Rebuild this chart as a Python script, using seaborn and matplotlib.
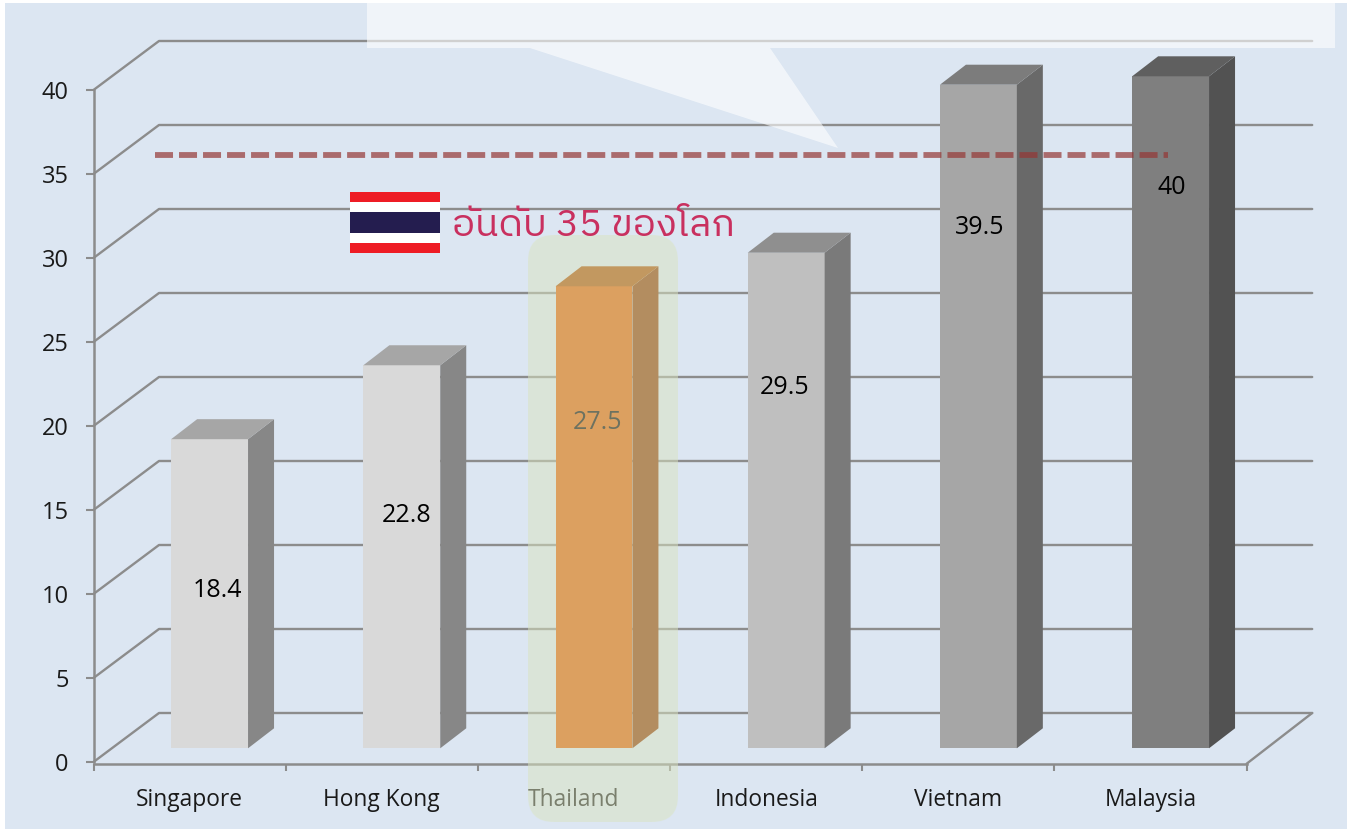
import matplotlib

matplotlib.use("Agg")
import matplotlib.pyplot as plt
import pandas as pd
import seaborn as sns
from matplotlib.patches import FancyBboxPatch, Polygon, Rectangle

countries = ["Singapore", "Hong Kong", "Thailand", "Indonesia", "Vietnam", "Malaysia"]
values = [18.4, 22.8, 27.5, 29.5, 39.5, 40]
value_labels = ["18.4", "22.8", "27.5", "29.5", "39.5", "40"]
y_ticks = [0, 5, 10, 15, 20, 25, 30, 35, 40]
thai_label = "อันดับ 35 ของโลก"

front_colors = ["#d9d9d9", "#d9d9d9", "#e05c00", "#bfbfbf", "#a6a6a6", "#7f7f7f"]
side_colors = ["#878787", "#878787", "#8c3600", "#7a7a7a", "#696969", "#525252"]
top_colors = ["#a6a6a6", "#a6a6a6", "#aa4c00", "#8f8f8f", "#7c7c7c", "#5f5f5f"]
label_height = [9.38, 13.88, 19.42, 21.46, 30.98, 33.37]
label_shift_px = [7.5, 4.5, 4, -2, 1, 1.5]

W, H = 1347, 830
PX_X = 192.2  # px per category
PX_Y = 16.8  # px per value unit
GRID = "#8c8c8c"

sns.set_theme(style="white")
plt.rcParams["font.family"] = ["Open Sans", "DejaVu Sans"]

fig = plt.figure(figsize=(W / 100, H / 100), dpi=100, facecolor="white")
fig.add_artist(
    Rectangle(
        (5 / W, 1 / H), (W - 5) / W, 826 / H,
        transform=fig.transFigure, facecolor="#dce6f2", edgecolor="none", zorder=-1,
    )
)


def px_axes(left, zero_y):
    return fig.add_axes(
        [left / W, (H - zero_y) / H, 6 * PX_X / W, 40 * PX_Y / H],
        xlim=(-0.5, 5.5), ylim=(0, 40), facecolor="none",
    )


# frame with ticks and the walls
ax = px_axes(93.5, 762)
ax.set_zorder(1)
wall_dx, wall_dy = 65.5 / PX_X, 49 / PX_Y
for v in y_ticks:
    ax.plot([-0.5, -0.5 + wall_dx, 5.5 + wall_dx], [v, v + wall_dy, v + wall_dy],
            color=GRID, lw=1.7, clip_on=False, solid_capstyle="round")
ax.plot([5.5, 5.5 + wall_dx], [-0.1, wall_dy], color=GRID, lw=1.7, clip_on=False)
sns.despine(ax=ax)
for side in ["left", "bottom"]:
    ax.spines[side].set_color(GRID)
    ax.spines[side].set_linewidth(1.8)
ax.spines["bottom"].set_position(("outward", 1.1))
ax.set_yticks(y_ticks)
ax.set_xticks([i - 0.5 for i in range(7)])
ax.set_xticklabels([])
ax.set_xticks(range(6), countries, minor=True)
ax.tick_params(axis="y", length=6, width=1.5, color=GRID, labelsize=17, labelcolor="#1a1a1a", pad=12, left=True)
ax.tick_params(axis="x", which="major", length=5, width=1.5, color=GRID, bottom=True)
ax.tick_params(axis="x", which="minor", length=0, labelsize=16.4, labelcolor="#1a1a1a", pad=17.5)

# bars stand a bit inside the floor
ax_bars = px_axes(93.5 + 20, 748.3)
ax_bars.set_zorder(2)
df = pd.DataFrame({"country": countries, "value": values})
sns.barplot(
    data=df, x="country", y="value", hue="country", palette=front_colors,
    hue_order=countries, order=countries, width=0.4, saturation=1, legend=False,
    linewidth=0, ax=ax_bars,
)
ax_bars.set_xlim(-0.5, 5.5)
ax_bars.set_ylim(0, 40)
ax_bars.axis("off")
bar_dx, bar_dy = 26 / PX_X, 20 / PX_Y
for i, bar in enumerate(ax_bars.patches):
    x0, x1, h = bar.get_x(), bar.get_x() + bar.get_width(), bar.get_height()
    ax_bars.add_patch(Polygon(
        [(x1, 0), (x1 + bar_dx, bar_dy), (x1 + bar_dx, h + bar_dy), (x1, h)],
        facecolor=side_colors[i], edgecolor="none", clip_on=False,
    ))
    ax_bars.add_patch(Polygon(
        [(x0, h), (x0 + bar_dx, h + bar_dy), (x1 + bar_dx, h + bar_dy), (x1, h)],
        facecolor=top_colors[i], edgecolor="none", clip_on=False,
    ))
    ax_bars.text(i + label_shift_px[i] / PX_X, label_height[i], value_labels[i],
                 ha="center", va="center", fontsize=18, color="black")

# annotations sit on top, in plain pixel coordinates
over = fig.add_axes([0, 0, 1, 1], xlim=(0, W), ylim=(H, 0), facecolor="none")
over.set_zorder(3)
over.axis("off")
over.add_patch(FancyBboxPatch(
    (548, 255), 110, 547, boxstyle="round,pad=20,rounding_size=26",
    facecolor="#dae4c0", edgecolor="none", alpha=0.5,
))
over.add_patch(Polygon(
    [(367, 3), (1335, 3), (1335, 48), (770, 48), (838, 148), (530, 48), (367, 48)],
    facecolor="white", edgecolor="none", alpha=0.6,
))
over.plot([155, 1168], [155, 155], color="#953735", alpha=0.7, lw=4.2,
          dashes=(18 / 5.83, 6 / 5.83), dash_capstyle="butt")
for y0, y1, c in [(192, 253, "#ee1c25"), (202, 243, "white"), (212, 233, "#241d4f")]:
    over.add_patch(Rectangle((350, y0), 90, y1 - y0, facecolor=c, edgecolor="none"))
over.text(452, 226, thai_label, fontsize=27.7, color="#c9305f", ha="left", va="center",
          family=["IBM Plex Sans Thai", "DejaVu Sans"])

fig.savefig("out.png", dpi=100)
